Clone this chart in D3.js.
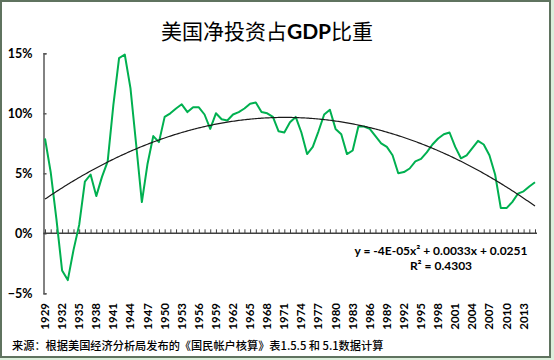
<!DOCTYPE html>
<html>
<head>
<meta charset="utf-8">
<script src="https://cdn.jsdelivr.net/npm/d3@7"></script>
<style>
html,body{margin:0;padding:0;background:#dcefdc;}
svg{display:block;}
</style>
</head>
<body>
<svg id="chart" width="554" height="360"></svg>
<script>
// ---- data ----
const years = d3.range(1929, 2016);
const netInvestmentPct = [
  7.9, 5.1, 1.2, -3.1, -3.9, -1.4, 0.7, 4.3, 4.9, 3.1,
  4.7, 6.0, 10.7, 14.6, 14.9, 12.1, 7.4, 2.6, 5.8, 8.1,
  7.6, 9.7, 10.0, 10.4, 10.75, 10.1, 10.5, 10.5, 9.9, 8.7,
  10.0, 9.5, 9.4, 9.9, 10.1, 10.4, 10.8, 10.9, 10.1, 10.0,
  9.7, 8.5, 8.4, 9.25, 9.7, 8.4, 6.6, 7.2, 8.5, 9.9,
  10.3, 8.7, 8.25, 6.6, 6.9, 8.9, 8.9, 8.7, 8.1, 7.5,
  7.2, 6.5, 5.0, 5.1, 5.4, 6.0, 6.2, 6.75, 7.4, 7.9,
  8.25, 8.4, 7.2, 6.25, 6.5, 7.1, 7.7, 7.4, 6.5, 4.9,
  2.1, 2.1, 2.6, 3.3, 3.5, 3.9, 4.25
];
const yTicks = [-0.05, 0, 0.05, 0.10, 0.15];
const xLabelYears = d3.range(1929, 2014, 3);
const titleCN1 = "美国净投资占";
const titleEN = "GDP";
const titleCN2 = "比重";
const equationText = "y = -4E-05x² + 0.0033x + 0.0251";
const r2Text = "R² = 0.4303";
const sourceText = "来源：根据美国经济分析局发布的《国民帐户核算》表1.5.5 和 5.1数据计算";

const data = years.map((yr, i) => ({year: yr, v: netInvestmentPct[i] / 100}));

// ---- quadratic least squares trendline (x = 1..n like Excel) ----
function quadFit(pts) {
  let n = pts.length, sx=0, sx2=0, sx3=0, sx4=0, sy=0, sxy=0, sx2y=0;
  pts.forEach(p => { const x=p[0], y=p[1];
    sx+=x; sx2+=x*x; sx3+=x*x*x; sx4+=x*x*x*x; sy+=y; sxy+=x*y; sx2y+=x*x*y; });
  const M = [[sx4,sx3,sx2,sx2y],[sx3,sx2,sx,sxy],[sx2,sx,n,sy]];
  for (let i=0;i<3;i++){
    for (let k=i+1;k<3;k++){
      const f = M[k][i]/M[i][i];
      for (let j=i;j<4;j++) M[k][j]-=f*M[i][j];
    }
  }
  const r=[0,0,0];
  for (let i=2;i>=0;i--){
    let s=M[i][3];
    for (let j=i+1;j<3;j++) s-=M[i][j]*r[j];
    r[i]=s/M[i][i];
  }
  return r;
}
const coef = quadFit(data.map((d,i)=>[i+1, d.v]));
const trend = d3.range(1, data.length + 0.001, 0.25).map(x => ({
  year: 1928 + x, v: coef[0]*x*x + coef[1]*x + coef[2]
}));

// ---- layout ----
const svg = d3.select("#chart");
svg.append("rect").attr("x",0).attr("y",0).attr("width",554).attr("height",360).attr("fill","#dcefdc");
svg.append("rect").attr("x",1).attr("y",1).attr("width",549).attr("height",356)
  .attr("fill","#ffffff").attr("stroke","#5f735f").attr("stroke-width",2);

const x = d3.scaleLinear().domain([1929, 2015]).range([45, 535]);
const y = d3.scaleLinear().domain([-0.05, 0.15]).range([293.3, 53.3]);
const axisX = 43.5;

// title
const title = svg.append("text").attr("x", 267).attr("y", 39).attr("text-anchor","middle")
  .attr("font-family","'Noto Sans CJK SC', sans-serif").attr("font-size",21).attr("fill","#000");
title.append("tspan").text(titleCN1);
title.append("tspan").attr("font-family","Lato, 'Open Sans', sans-serif").attr("font-weight","bold").text(titleEN);
title.append("tspan").text(titleCN2);

// y axis
const yAxis = d3.axisLeft(y).tickValues(yTicks).tickSizeInner(-3).tickSizeOuter(-3).tickPadding(11)
  .tickFormat(d => d3.format(".0%")(d));
const gy = svg.append("g").attr("transform", `translate(${axisX},0)`).call(yAxis);
gy.select(".domain").attr("stroke","#595959").attr("stroke-width",1.5);
gy.selectAll(".tick line").attr("stroke","#595959").attr("stroke-width",1.5);
gy.selectAll(".tick text").attr("font-family","Lato, sans-serif").attr("font-weight","bold")
  .attr("font-size",12.5).attr("fill","#000");

// x axis at 0 with ticks every year
const xAxis = d3.axisBottom(x).tickValues(years).tickSizeInner(-4).tickSizeOuter(0).tickFormat("");
const gx = svg.append("g").attr("transform", `translate(0,${y(0)})`).call(xAxis);
gx.select(".domain").attr("stroke","#404040").attr("stroke-width",1.5)
  .attr("d", `M${axisX},0H${x(2015)+2}`);
gx.selectAll(".tick line").attr("stroke","#404040").attr("stroke-width",1);

// x labels (low position)
svg.append("g").selectAll("text").data(xLabelYears).join("text")
  .attr("transform", d => `translate(${x(d)+4},303) rotate(-90)`)
  .attr("text-anchor","end")
  .attr("font-family","Lato, sans-serif").attr("font-weight","bold").attr("font-size",11.5)
  .attr("fill","#000").text(d => d);

// data line
const line = d3.line().x(d => x(d.year)).y(d => y(d.v));
svg.append("path").datum(data).attr("d", line).attr("fill","none")
  .attr("stroke","#00b050").attr("stroke-width",2).attr("stroke-linejoin","round");

// trendline
svg.append("path").datum(trend).attr("d", line).attr("fill","none")
  .attr("stroke","#1a1a1a").attr("stroke-width",1.2);

// equation
svg.append("text").attr("x",441).attr("y",255).attr("text-anchor","middle")
  .attr("font-family","Lato, sans-serif").attr("font-weight","bold").attr("font-size",12)
  .attr("fill","#000").text(equationText);
svg.append("text").attr("x",441).attr("y",270).attr("text-anchor","middle")
  .attr("font-family","Lato, sans-serif").attr("font-weight","bold").attr("font-size",12)
  .attr("fill","#000").text(r2Text);

// source
svg.append("text").attr("x",12).attr("y",350)
  .attr("font-family","'Noto Sans CJK SC', sans-serif").attr("font-weight",500).attr("font-size",11.2)
  .attr("fill","#000").text(sourceText);
</script>
</body>
</html>
